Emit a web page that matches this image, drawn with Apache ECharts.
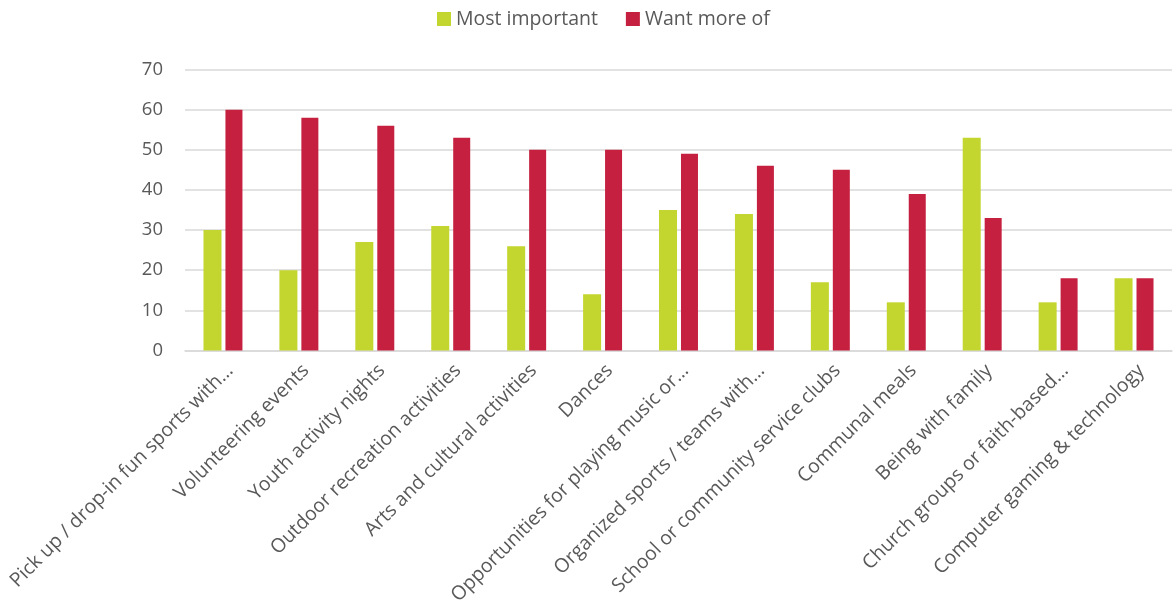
<!DOCTYPE html>
<html><head><meta charset="utf-8">
<script src="https://cdn.jsdelivr.net/npm/echarts@6/dist/echarts.min.js"></script>
<style>html,body{margin:0;padding:0;background:#fff}#c{width:1174px;height:602px}</style>
</head><body><div id="c"></div>
<script>
var categories = ["Pick up / drop-in fun sports with…","Volunteering events","Youth activity nights","Outdoor recreation activities","Arts and cultural activities","Dances","Opportunities for playing music or…","Organized sports / teams with…","School or community service clubs","Communal meals","Being with family","Church groups or faith-based…","Computer gaming & technology"];
var mostImportant = [30,20,27,31,26,14,35,34,17,12,53,12,18];
var wantMoreOf = [60,58,56,53,50,50,49,46,45,39,33,18,18];
var seriesNames = ["Most important","Want more of"];
var chart = echarts.init(document.getElementById('c'));
var font = "'Open Sans', 'Liberation Sans', sans-serif";
chart.setOption({
  animation:false,
  textStyle:{fontFamily:font},
  legend:{top:4,left:432,itemWidth:14,itemHeight:14,itemGap:28,icon:'rect',
    textStyle:{fontSize:19.5,color:'#595959',fontFamily:font},data:seriesNames},
  grid:{left:185,right:2,top:69.5,bottom:251.5,containLabel:false,outerBoundsMode:'none'},
  xAxis:{type:'category',data:categories,
    axisLine:{lineStyle:{color:'#d9d9d9',width:1.5}},axisTick:{show:false},
    axisLabel:{rotate:45,interval:0,fontSize:19.5,color:'#595959',margin:10,verticalAlign:'top',fontFamily:font}},
  yAxis:{type:'value',min:0,max:70,interval:10,
    axisLine:{show:false},axisTick:{show:false},
    splitLine:{lineStyle:{color:'#d9d9d9',width:1.5}},
    axisLabel:{fontSize:18.5,color:'#595959',margin:22,fontFamily:font}},
  series:[
    {name:seriesNames[0],type:'bar',data:mostImportant,barWidth:18,barGap:'22%',itemStyle:{color:'#C3D52F'}},
    {name:seriesNames[1],type:'bar',data:wantMoreOf,barWidth:17,itemStyle:{color:'#C5203F'}}
  ]
});
</script></body></html>
